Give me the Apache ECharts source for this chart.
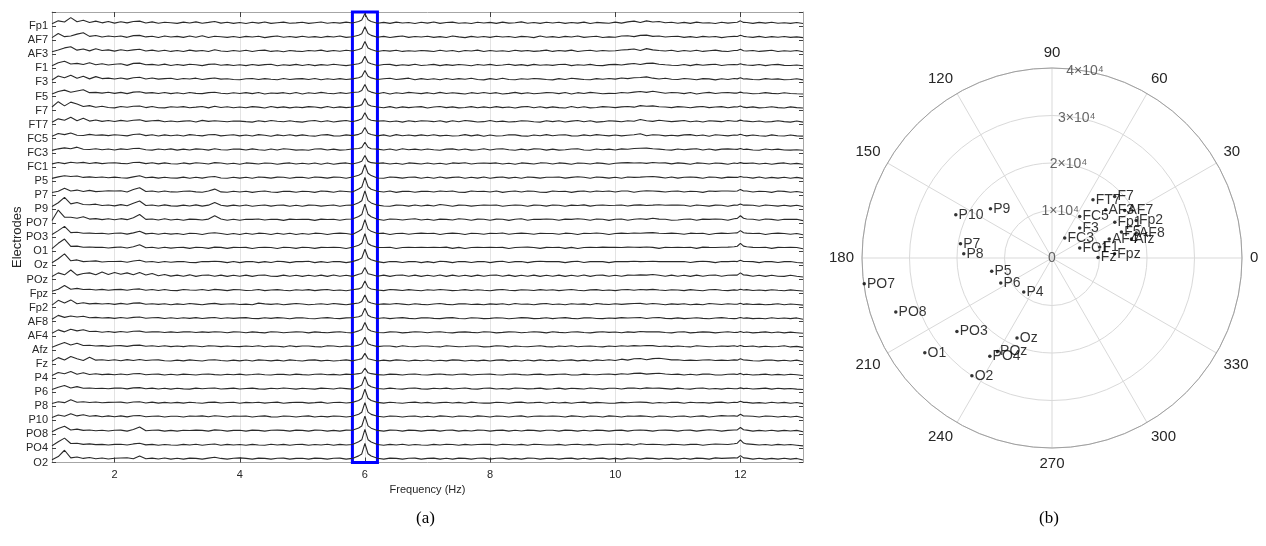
<!DOCTYPE html>
<html>
<head>
<meta charset="utf-8">
<script src="https://cdn.jsdelivr.net/npm/echarts@6/dist/echarts.min.js"></script>
<style>
html,body{margin:0;padding:0;background:#fff;}
#chart{width:1266px;height:546px;}
</style>
</head>
<body>
<div id="chart"></div>
<script>
// ---------- Panel (a): spectra, amplitude in % of trace spacing, sampled 1.0..13.0 Hz every 0.1 Hz ----------
const freqStart = 1.0;
const freqStep = 0.1;
const electrodes = ['Fp1','AF7','AF3','F1','F3','F5','F7','FT7','FC5','FC3','FC1','P5','P7','P9','PO7','PO3','O1','Oz','POz','Fpz','Fp2','AF8','AF4','Afz','Fz','P4','P6','P8','P10','PO8','PO4','O2'];
const freqTicks = [2,4,6,8,10,12];
const highlightBand = [5.8, 6.2];

const sFp1 = [2,22,14,45,16,26,10,20,8,18, 6,16,8,18,20,7,15,5,12,9, 4,13,7,15,5,11,18,6,12,4, 10,3,12,6,14,4,9,13,5,8, 12,4,9,14,5,10,6,13,7,18, 75,18,5,11,4,13,7,10,3,12, 6,14,4,10,13,5,9,3,12,7, 11,4,13,6,9,15,5,10,4,12, 7,12,4,10,6,13,3,11,8,5, 13,6,15,20,11,22,14,18,9,12, 5,11,4,13,7,9,3,12,6,10, 22,10,4,11,6,12,5,9,4,10, 3];
const sAF7 = [3,32,10,14,28,38,12,18,7,15, 9,15,5,17,19,8,13,4,14,7, 12,5,14,6,16,4,13,9,5,11, 4,12,7,13,3,10,15,6,11,5, 13,6,10,4,12,7,14,5,9,20, 80,19,6,12,4,10,14,5,11,7, 13,5,10,4,14,8,3,12,6,11, 5,13,7,11,4,12,9,3,14,6, 10,4,12,7,15,5,9,13,4,8, 6,14,16,10,19,21,12,15,7,11, 13,5,10,4,12,7,11,3,9,12, 20,9,5,12,4,10,6,11,5,8, 3];
const sAF3 = [2,15,30,38,14,22,9,24,12,16, 7,17,10,16,20,8,14,6,13,5, 11,4,14,7,12,5,17,8,4,12, 6,13,4,11,14,5,10,3,12,7, 4,12,8,14,5,11,6,13,8,19, 75,18,4,11,7,13,5,10,6,12, 9,4,13,6,11,3,12,8,14,5, 12,6,10,4,13,7,11,5,9,14, 5,11,7,14,4,10,13,6,12,8, 10,15,18,22,12,25,16,11,8,13, 4,12,6,13,5,10,14,7,4,11, 20,8,12,5,9,13,4,10,6,11, 3];
const sF1 = [3,24,35,16,20,12,24,10,18,8, 14,17,6,20,22,10,13,7,15,5, 12,6,14,10,4,13,16,7,11,5, 10,4,12,6,11,14,3,10,6,13, 5,12,4,11,7,14,9,4,10,18, 70,17,5,12,13,4,10,6,14,5, 8,13,4,11,6,12,9,3,12,7, 13,5,9,14,6,11,4,13,7,10, 6,12,14,4,10,7,13,5,4,11, 13,8,15,19,12,20,22,14,10,7, 5,12,4,13,7,11,14,5,10,12, 18,9,6,12,4,10,13,6,5,9, 3];
const sF3 = [2,30,18,36,14,28,10,26,12,15, 9,16,8,18,21,9,16,8,12,14, 6,13,9,15,5,12,16,8,11,6, 4,11,13,5,12,7,4,13,6,10, 12,5,13,4,11,6,12,5,10,18, 70,17,6,11,14,5,10,15,4,12, 6,11,4,13,5,12,7,14,6,3, 12,5,14,6,4,11,7,13,10,5, 3,12,6,14,10,5,4,12,7,13, 8,16,12,18,20,24,15,9,14,7, 5,13,9,4,12,10,3,11,6,13, 18,10,5,4,12,7,10,4,6,11, 3];
const sF5 = [2,20,30,15,24,33,12,14,9,15, 7,14,5,16,18,9,12,6,13,5, 11,4,13,7,5,12,15,8,4,11, 6,12,5,13,3,10,7,12,4,13, 3,11,6,14,8,4,12,6,13,17, 70,16,4,13,3,11,6,14,10,5, 12,4,14,6,11,7,3,12,6,13, 6,12,3,7,14,5,11,4,8,12, 11,5,13,3,12,6,14,10,4,7, 6,13,10,16,20,14,22,15,8,13, 11,5,13,3,10,14,6,11,13,9, 16,10,4,6,12,7,4,11,6,4, 3];
const sF7 = [10,48,18,45,32,14,20,8,16,7, 4,14,8,15,17,6,14,5,4,12, 8,13,5,9,14,4,15,7,12,5, 10,5,13,9,3,14,6,11,4,10, 6,13,10,4,14,5,11,6,10,18, 70,17,10,5,13,3,11,6,10,13, 3,10,14,6,11,4,7,13,5,11, 5,13,6,10,3,11,14,5,12,4, 11,6,3,14,5,12,4,7,13,10, 6,11,14,9,20,15,18,12,10,6, 13,10,5,11,14,6,10,13,5,11, 18,6,11,4,7,12,6,3,11,6, 3];
const sFT7 = [2,26,16,38,12,30,10,18,8,14, 7,15,9,16,19,8,12,15,5,11, 5,10,13,4,15,8,12,9,5,11, 10,6,3,12,6,14,9,5,13,6, 3,11,14,5,12,4,10,14,6,17, 70,16,10,13,5,11,3,12,6,13, 11,6,13,3,12,5,14,10,4,6, 14,5,10,4,6,13,11,5,3,12, 6,12,4,10,14,5,12,3,6,13, 10,5,13,9,21,12,8,16,11,6, 10,14,5,11,4,13,10,6,14,9, 17,10,5,11,4,6,12,6,3,11, 3];
const sFC5 = [2,22,14,26,10,8,16,9,12,7, 13,10,5,15,18,7,13,4,12,6, 11,4,14,9,5,13,15,5,10,13, 5,11,4,14,10,3,12,6,13,5, 12,6,3,11,14,5,4,12,7,16, 65,15,5,12,3,14,6,11,5,12, 6,13,5,10,4,6,14,5,12,3, 11,4,6,13,12,5,3,11,6,14, 6,11,13,5,4,12,6,14,10,5, 11,5,10,13,20,6,13,11,5,10, 5,12,14,6,11,3,13,10,5,11, 16,5,11,6,3,12,6,4,11,5, 3];
const sFC3 = [2,13,20,14,25,10,8,14,7,12, 5,13,8,15,16,7,4,12,6,13, 4,11,5,13,10,4,14,7,5,12, 11,5,13,6,3,12,5,14,10,4, 6,3,12,13,5,11,4,6,12,15, 60,14,11,5,12,3,14,6,11,5, 12,6,3,11,13,5,12,4,6,14, 5,12,14,6,3,11,5,13,12,4, 11,4,6,12,14,5,3,12,6,11, 5,13,10,15,17,18,14,11,6,4, 12,6,11,14,5,12,4,11,13,10, 15,11,5,3,12,6,11,5,4,6, 3];
const sFC1 = [6,16,8,18,12,17,9,15,8,12, 14,10,7,16,17,8,14,6,13,7, 5,13,6,14,11,5,15,12,5,11, 4,13,10,5,12,11,4,10,13,5, 11,5,13,4,12,3,10,13,5,16, 65,15,10,13,5,11,4,13,10,5, 13,5,11,4,13,10,14,5,11,12, 10,13,5,11,4,13,10,5,13,12, 5,13,10,4,12,11,5,13,10,4, 11,13,15,12,14,10,16,12,13,6, 13,10,4,13,11,5,12,10,4,12, 15,10,12,5,11,4,10,13,5,10, 3];
const sP5 = [3,14,22,16,20,10,14,9,13,8, 12,8,5,14,22,8,12,5,11,6, 5,12,4,11,5,13,16,6,4,11, 5,11,4,13,10,5,12,11,4,10, 11,4,13,10,5,12,11,4,13,25, 100,23,6,4,13,10,5,11,12,4, 11,4,13,5,10,13,4,11,5,13, 4,10,13,5,11,4,13,10,5,11, 11,13,5,10,15,11,4,13,10,5, 11,4,13,10,12,15,16,12,6,13, 5,11,13,10,4,13,11,5,12,10, 17,11,5,13,4,10,5,11,4,10, 3];
const sP7 = [3,12,33,14,20,10,18,9,12,15, 13,15,7,24,37,10,13,6,14,7, 6,12,13,7,5,13,27,7,5,12, 6,12,4,10,13,6,4,12,11,5, 12,10,4,13,11,5,13,10,6,28, 110,26,12,6,13,4,11,12,5,11, 12,6,14,10,13,5,4,13,10,12, 6,13,4,10,13,6,14,12,5,4, 13,10,12,4,11,13,6,13,10,14, 6,13,14,5,12,15,13,11,6,12, 13,6,12,10,4,13,11,13,14,12, 25,13,6,12,10,4,13,11,5,10, 3];
const sP9 = [4,30,68,22,32,18,16,20,10,14, 8,17,9,27,42,11,14,7,15,8, 6,13,7,15,6,13,32,12,6,13, 7,14,5,11,14,6,12,13,5,12, 5,13,12,6,11,14,5,12,13,30, 115,29,13,7,5,13,12,6,14,7, 13,7,18,12,5,13,12,6,11,14, 12,14,5,11,14,12,5,13,12,6, 14,12,5,13,11,15,6,12,14,11, 12,14,7,13,15,11,13,16,12,14, 13,12,5,14,11,6,13,12,5,13, 22,13,12,5,14,11,6,12,6,12, 3];
const sPO7 = [4,78,28,27,20,30,14,17,10,16, 9,17,10,24,47,12,15,8,16,7, 13,6,14,12,7,14,38,15,6,13, 6,13,12,15,7,13,12,5,14,11, 13,12,5,14,11,13,6,13,15,32, 120,31,13,6,15,13,7,13,16,7, 13,6,14,12,7,16,13,6,14,13, 6,14,13,5,13,16,6,13,12,15, 13,6,14,12,16,13,6,15,13,5, 13,15,6,13,16,12,20,14,13,6, 7,13,15,6,14,12,15,13,6,16, 38,15,13,6,15,12,6,13,12,13, 3];
const sPO3 = [4,32,62,18,20,13,14,12,13,8, 13,15,7,16,27,9,13,6,13,7, 12,5,13,12,5,13,17,12,5,12, 5,13,6,14,12,5,13,6,14,5, 12,6,14,12,5,12,14,12,5,28, 110,27,12,14,5,12,13,6,12,14, 12,13,5,12,14,12,5,13,12,6, 13,12,15,6,12,14,12,6,13,12, 12,6,14,12,5,13,12,15,12,5, 12,14,12,15,13,16,18,13,12,14, 12,6,14,12,13,5,12,14,12,15, 32,14,12,13,5,12,14,12,6,12, 3];
const sO1 = [4,42,72,20,22,14,16,13,14,9, 13,16,9,17,32,10,14,7,14,8, 12,13,6,14,12,6,15,13,6,13, 12,13,5,12,13,12,5,14,12,6, 14,12,6,13,12,14,12,5,14,28, 110,27,13,12,14,5,12,13,12,14, 12,14,12,15,6,13,5,12,14,12, 14,12,13,5,12,14,15,12,6,13, 12,14,6,13,5,12,14,12,15,13, 13,12,15,14,13,16,13,6,14,12, 13,12,14,6,15,13,12,14,15,18, 42,17,13,12,14,6,13,12,14,12, 3];
const sOz = [4,32,67,18,24,12,15,17,9,13, 13,14,7,16,22,9,13,6,13,7, 12,13,6,5,13,12,15,12,5,13, 5,12,13,5,12,6,14,12,5,12, 12,14,5,12,6,13,12,5,12,26, 100,25,12,5,13,12,6,12,13,5, 12,5,14,12,5,13,12,6,12,13, 5,12,14,6,12,13,5,12,14,12, 13,12,5,12,14,6,12,13,12,5, 12,13,12,14,12,13,15,12,13,12, 12,13,6,12,14,12,5,13,12,14, 22,13,12,5,13,12,6,12,13,6, 3];
const sPOz = [6,32,18,52,16,28,32,18,38,20, 34,22,32,18,34,17,27,12,21,9, 16,8,18,7,15,17,8,16,7,15, 8,16,7,15,17,8,7,16,8,15, 7,15,8,16,7,17,8,15,7,22, 70,21,8,16,7,15,17,8,16,7, 15,8,17,7,16,8,15,7,16,8, 15,17,8,16,7,15,8,16,7,15, 8,16,7,15,8,17,7,15,16,8, 15,8,16,15,18,16,20,15,8,16, 8,15,7,16,8,15,17,8,15,16, 32,16,8,15,7,15,8,7,15,8, 3];
const sFpz = [2,16,42,16,22,14,16,10,15,9, 13,15,8,16,18,9,14,7,14,7, 6,14,10,8,14,7,15,11,6,13, 12,7,9,14,6,10,13,8,5,12, 9,13,6,11,14,7,10,5,12,18, 75,18,10,6,14,11,7,13,9,5, 12,8,14,10,6,9,13,7,12,8, 5,11,14,8,6,12,10,7,13,9, 12,6,10,14,8,5,11,13,7,10, 6,12,14,9,14,11,15,10,7,12, 10,6,13,9,5,12,14,8,6,11, 16,13,7,10,6,12,8,5,11,7, 3];
const sFp2 = [3,37,18,40,13,20,12,15,11,14, 8,15,9,17,19,9,13,8,13,6, 12,7,14,10,6,12,15,8,11,13, 7,10,5,17,12,8,13,6,10,14, 11,6,9,13,7,14,10,5,12,18, 75,18,7,12,9,14,10,6,13,8, 5,11,14,8,6,12,13,7,10,5, 12,8,13,6,14,9,11,5,12,14, 7,11,5,13,9,12,6,14,10,7, 13,8,12,14,15,9,14,11,6,12, 8,13,6,10,5,14,11,7,13,9, 16,12,7,10,5,8,13,6,11,7, 3];
const sAF8 = [2,30,16,26,18,24,13,16,11,14, 9,15,10,16,19,10,13,14,8,13, 8,13,9,14,8,12,15,8,13,9, 12,14,8,7,13,9,14,11,6,12, 13,8,6,11,14,10,7,12,13,20, 80,19,8,13,7,11,14,9,6,12, 13,9,7,12,14,8,6,13,11,7, 9,13,11,6,10,14,12,7,9,13, 7,11,14,9,6,12,13,8,7,11, 9,14,11,13,15,8,13,15,9,7, 12,7,10,13,9,6,11,14,10,7, 15,12,7,10,6,13,8,11,7,12, 3];
const sAF4 = [3,27,13,32,20,28,16,17,10,15, 9,15,10,17,18,10,13,14,8,13, 8,13,14,8,13,9,14,12,7,13, 12,7,13,9,6,14,12,7,10,13, 12,6,13,9,7,11,14,8,6,20, 80,19,8,7,13,12,6,9,14,12, 7,12,14,8,6,11,13,9,7,14, 12,6,9,13,12,7,10,14,11,6, 14,9,7,12,13,8,6,11,14,9, 12,7,13,9,15,13,14,13,8,6, 12,14,6,9,13,11,6,10,14,8, 15,12,6,9,13,7,12,6,11,7, 3];
const sAfz = [4,22,37,20,32,16,18,12,15,10, 14,15,10,17,19,11,14,9,14,8, 13,8,14,12,7,14,13,8,13,9, 8,13,9,14,7,13,11,6,14,8, 12,13,8,6,14,12,7,13,9,19, 75,19,8,13,12,6,14,9,7,12, 13,9,6,14,11,7,9,13,12,6, 8,14,12,6,13,9,7,11,14,8, 6,13,9,14,7,11,13,9,6,12, 9,14,11,15,13,16,15,9,13,8, 13,9,6,14,11,7,9,13,10,14, 16,9,13,6,11,7,9,14,6,10, 3];
const sFz = [4,30,13,38,22,10,33,12,15,9, 15,8,16,9,17,9,13,14,8,6, 12,7,14,10,6,13,15,9,6,12, 7,13,6,14,11,7,12,6,14,9, 6,12,14,7,11,6,9,14,7,17, 60,17,6,12,7,14,11,6,12,8, 13,6,11,7,14,12,6,11,7,12, 6,12,14,7,11,6,13,7,14,8, 12,6,11,14,7,12,6,14,10,15, 10,19,12,22,24,15,23,26,20,14, 15,10,12,9,13,15,10,12,9,14, 22,12,8,6,12,13,7,11,6,12, 3];
const sP4 = [3,24,16,32,12,22,10,15,9,13, 8,14,8,15,17,8,12,13,6,12, 6,13,10,7,12,14,9,6,12,8, 13,7,10,14,8,6,12,11,7,13, 9,6,12,14,8,11,6,13,10,16, 55,16,9,6,13,11,7,12,14,8, 6,11,14,9,7,12,13,6,10,12, 13,8,6,12,14,9,7,11,13,6, 9,12,14,7,6,13,10,8,12,14, 9,15,12,18,20,13,16,19,14,10, 13,7,12,6,13,14,7,6,12,13, 18,12,6,9,13,7,11,6,12,8, 3];
const sP6 = [3,20,32,14,24,12,14,11,12,9, 13,14,8,15,17,9,13,7,12,6, 12,8,6,13,9,12,14,7,10,13, 7,11,13,8,6,12,9,14,11,6, 12,9,6,13,11,7,14,10,6,24, 95,23,11,7,13,9,6,12,14,8, 6,12,9,13,7,11,14,8,6,12, 13,7,11,6,14,12,8,10,13,6, 9,13,6,12,10,7,14,11,6,12, 12,7,13,14,9,15,12,13,10,6, 13,9,6,12,14,7,11,6,12,9, 15,12,7,10,13,6,12,8,11,6, 3];
const sP8 = [4,17,10,30,13,16,11,15,9,12, 13,14,8,15,17,8,14,7,12,8, 12,7,13,9,6,12,14,8,11,13, 6,12,9,13,7,11,14,6,10,13, 12,7,10,14,6,11,13,8,12,26, 105,25,12,7,13,9,6,11,14,8, 12,6,10,13,8,12,6,14,9,7, 7,13,11,6,12,14,8,10,13,6, 13,8,12,6,11,14,7,12,9,6, 7,12,9,13,14,12,6,11,8,13, 12,6,13,9,11,7,12,14,8,13, 20,12,7,10,6,13,8,12,6,11, 3];
const sP10 = [5,22,13,32,16,24,14,18,10,16, 10,16,9,17,19,10,14,15,8,13, 14,8,15,13,16,10,17,13,8,15, 13,15,8,14,16,9,8,15,13,8, 14,16,8,13,9,15,14,8,13,28, 110,27,14,8,15,13,8,14,15,8, 14,8,16,13,8,15,14,8,16,13, 8,15,14,8,13,16,8,14,15,13, 15,13,8,16,14,8,15,13,8,16, 14,8,15,13,16,14,8,15,13,8, 13,15,8,14,16,8,13,18,15,16, 28,15,13,8,15,13,8,14,8,13, 3];
const sPO8 = [4,27,42,16,22,13,16,11,14,9, 14,15,8,19,37,10,14,15,8,13, 8,14,12,15,13,8,17,14,8,13, 14,8,15,13,8,14,15,13,8,15, 13,8,15,14,8,13,8,15,14,30, 115,29,13,8,15,14,8,15,13,8, 13,15,8,14,15,8,13,9,15,14, 8,13,15,8,14,9,15,13,8,14, 14,8,15,13,8,14,9,15,13,8, 13,15,8,14,16,13,8,14,15,13, 8,14,15,8,13,18,14,8,13,16, 34,15,8,13,9,14,8,13,9,13, 3];
const sPO4 = [4,32,58,20,22,14,17,12,14,9, 14,15,9,17,22,10,14,8,13,9, 8,14,9,15,8,13,16,8,14,9, 13,8,14,9,8,15,9,14,8,13, 14,8,13,9,15,8,14,9,13,32, 120,31,13,8,14,9,15,8,13,9, 8,14,9,15,13,8,14,9,13,15, 14,8,15,13,9,14,8,15,13,9, 9,14,8,13,15,9,14,8,13,15, 15,12,16,9,18,13,15,13,9,14, 13,9,14,15,8,13,16,15,13,18, 45,17,14,9,13,8,14,9,13,8, 3];
const sO2 = [4,27,72,18,24,14,20,12,17,10, 15,17,19,12,32,12,16,10,17,9, 15,9,16,14,9,16,22,14,9,15, 18,14,9,16,14,9,15,16,9,14, 15,9,16,14,9,15,16,9,14,32, 120,31,15,9,16,14,9,15,16,9, 14,16,9,15,9,16,14,9,15,16, 9,15,16,9,14,9,16,15,9,14, 15,9,14,16,9,15,9,14,16,9, 14,9,16,15,9,16,14,9,15,14, 9,15,9,16,14,9,18,14,16,18, 34,16,9,15,9,14,9,15,9,14, 3];

const spectra = [sFp1,sAF7,sAF3,sF1,sF3,sF5,sF7,sFT7,sFC5,sFC3,sFC1,sP5,sP7,sP9,sPO7,sPO3,sO1,sOz,sPOz,sFpz,sFp2,sAF8,sAF4,sAfz,sFz,sP4,sP6,sP8,sP10,sPO8,sPO4,sO2];

// half-step samples on the flanks of the 6 Hz and 12 Hz peaks (same channel order)
const flankFreqs = [5.95, 6.05, 11.95, 12.05];
const flank6L = [28,30,28,27,27,27,27,27,25,23,25,38,42,44,46,42,42,38,27,28,28,30,30,28,23,21,36,40,42,44,46,46];
const flank6R = [30,32,29,26,28,26,28,26,24,24,24,40,44,45,48,43,41,39,26,29,27,31,31,29,22,22,37,41,43,45,47,47];
const flank12L = [12,11,11,10,10,9,10,10,9,9,9,10,13,12,19,16,21,12,16,9,9,9,9,9,12,10,9,11,14,17,22,17];
const flank12R = [11,12,10,11,9,10,9,11,10,8,10,11,14,13,20,17,22,13,17,10,8,10,8,10,13,9,10,12,15,18,23,18];

// ---------- Panel (b): polar positions ----------
const polarNames = ['Fp1','AF7','AF3','F1','F3','F5','F7','FT7','FC5','FC3','FC1','Fz','Fpz','Fp2','AF8','AF4','Afz','P5','P7','P9','P10','P8','P6','P4','PO7','PO3','PO8','PO4','POz','Oz','O1','O2'];
const polarR = [15200,18300,15200,10300,8600,15600,18500,15000,10500,5000,6200,9700,13200,19400,18500,12700,17200,13000,19500,16600,22200,18600,12000,9300,39900,25300,34800,24500,22800,18400,33400,30000];
const polarTheta = [29.6,33.2,42,13,47.3,20.5,44.5,54.9,56.3,57.6,19.8,0.5,3.9,24,16.5,18.4,13.5,192.5,171.1,141.3,155.8,177.2,206,230.2,187.8,217.7,199.1,237.7,239.7,246.4,216.7,235.8];
const radiusTicks = [0,10000,20000,30000,40000];
const radiusTickLabels = ['0','1\u00d710\u2074','2\u00d710\u2074','3\u00d710\u2074','4\u00d710\u2074'];
const radiusLabelAngle = 80;

// ---------- build ----------
const ampScale = 0.01;
const baseOffset = 0.15;
const nCh = electrodes.length;
const font = 'Liberation Sans, Arial, Helvetica, sans-serif';
const flanks = [flank6L, flank6R, flank12L, flank12R];

const series = spectra.map((vals, t) => {
  const base = (nCh - 1 - t) + baseOffset;
  const pts = vals.map((v, i) => [freqStart + i * freqStep, base + v * ampScale])
    .concat(flankFreqs.map((f, j) => [f, base + flanks[j][t] * ampScale]))
    .sort((a, b) => a[0] - b[0]);
  return {
    type: 'line',
    xAxisIndex: 0, yAxisIndex: 0,
    data: pts,
    symbol: 'none', showSymbol: false, silent: true,
    lineStyle: {color: '#2a2a2a', width: 1.1},
    z: 3
  };
});

series[0].markArea = {
  silent: true,
  itemStyle: {color: 'rgba(0,0,0,0)', borderColor: '#0000ff', borderWidth: 3},
  data: [[{xAxis: highlightBand[0], yAxis: 0}, {xAxis: highlightBand[1], yAxis: nCh}]]
};

series.push({
  type: 'scatter',
  coordinateSystem: 'polar',
  data: polarNames.map((n, i) => ({name: n, value: [polarR[i], polarTheta[i]]})),
  symbol: 'circle', symbolSize: 3.5,
  itemStyle: {color: '#000'},
  label: {show: true, position: 'right', distance: 1, formatter: '{b}', color: '#000', fontSize: 14, fontFamily: font},
  silent: true, z: 5
});

series.push({
  type: 'scatter',
  coordinateSystem: 'polar',
  data: radiusTicks.map((r, i) => ({name: radiusTickLabels[i], value: [r, radiusLabelAngle]})),
  symbolSize: 0,
  label: {show: true, position: 'inside', formatter: '{b}', color: '#404040', fontSize: 14, fontFamily: font},
  silent: true, z: 4
});

const option = {
  animation: false,
  backgroundColor: '#ffffff',
  grid: {left: 52, top: 12, width: 751, height: 450.5, outerBoundsMode: 'none', containLabel: false},
  xAxis: [{
    type: 'value', min: 1, max: 13, gridIndex: 0, position: 'bottom',
    name: 'Frequency (Hz)', nameLocation: 'middle', nameGap: 22, nameMoveOverlap: false,
    nameTextStyle: {fontSize: 11, color: '#262626', fontFamily: font},
    axisLine: {show: true, onZero: false, lineStyle: {color: '#a6a6a6', width: 1}},
    axisTick: {show: true, inside: true, length: 5, customValues: freqTicks, lineStyle: {color: '#404040'}},
    axisLabel: {customValues: freqTicks, fontSize: 11, color: '#262626', margin: 7, fontFamily: font},
    splitLine: {show: true, lineStyle: {color: '#e3e3e3', width: 1}}
  }, {
    type: 'value', min: 1, max: 13, gridIndex: 0, position: 'top',
    axisLine: {show: true, onZero: false, lineStyle: {color: '#a6a6a6', width: 1}},
    axisTick: {show: true, inside: true, length: 5, customValues: freqTicks, lineStyle: {color: '#404040'}},
    axisLabel: {show: false},
    splitLine: {show: false}
  }],
  yAxis: [{
    type: 'value', min: 0, max: nCh, interval: 1, gridIndex: 0, position: 'left',
    name: 'Electrodes', nameLocation: 'middle', nameGap: 28, nameRotate: 90, nameMoveOverlap: false,
    nameTextStyle: {fontSize: 13, color: '#262626', fontFamily: font},
    axisLine: {show: true, onZero: false, lineStyle: {color: '#a6a6a6', width: 1}},
    axisTick: {show: true, inside: true, length: 4, lineStyle: {color: '#404040'}},
    axisLabel: {fontSize: 11, color: '#262626', margin: 4, fontFamily: font,
      formatter: v => (v >= 0 && v <= nCh - 1) ? electrodes[nCh - 1 - v] : ''},
    splitLine: {show: false}
  }, {
    type: 'value', min: 0, max: nCh, interval: 1, gridIndex: 0, position: 'right',
    axisLine: {show: true, onZero: false, lineStyle: {color: '#a6a6a6', width: 1}},
    axisTick: {show: true, inside: true, length: 4, lineStyle: {color: '#404040'}},
    axisLabel: {show: false}, splitLine: {show: false}
  }],
  polar: {center: [1052, 258], radius: 190},
  angleAxis: {
    type: 'value', min: 0, max: 360, interval: 30, startAngle: 0, clockwise: false,
    axisLine: {show: true, lineStyle: {color: '#a0a0a0', width: 1}},
    axisTick: {show: false},
    axisLabel: {margin: 8, fontSize: 15, color: '#262626', fontFamily: font, formatter: v => v === 360 ? '' : String(v)},
    splitLine: {show: true, lineStyle: {color: '#d9d9d9', width: 1}}
  },
  radiusAxis: {
    type: 'value', min: 0, max: 40000, interval: 10000,
    axisLine: {show: false}, axisTick: {show: false}, axisLabel: {show: false},
    splitLine: {show: true, lineStyle: {color: '#d9d9d9', width: 1}}
  },
  graphic: [
    {type: 'text', left: 427 - 11, top: 510, style: {text: '(a)', font: '17px "Liberation Serif", "Times New Roman", serif', fill: '#000'}},
    {type: 'text', left: 1050 - 11, top: 510, style: {text: '(b)', font: '17px "Liberation Serif", "Times New Roman", serif', fill: '#000'}}
  ],
  series: series
};

const chart = echarts.init(document.getElementById('chart'), null, {renderer: 'canvas'});
chart.setOption(option);
</script>
</body>
</html>
